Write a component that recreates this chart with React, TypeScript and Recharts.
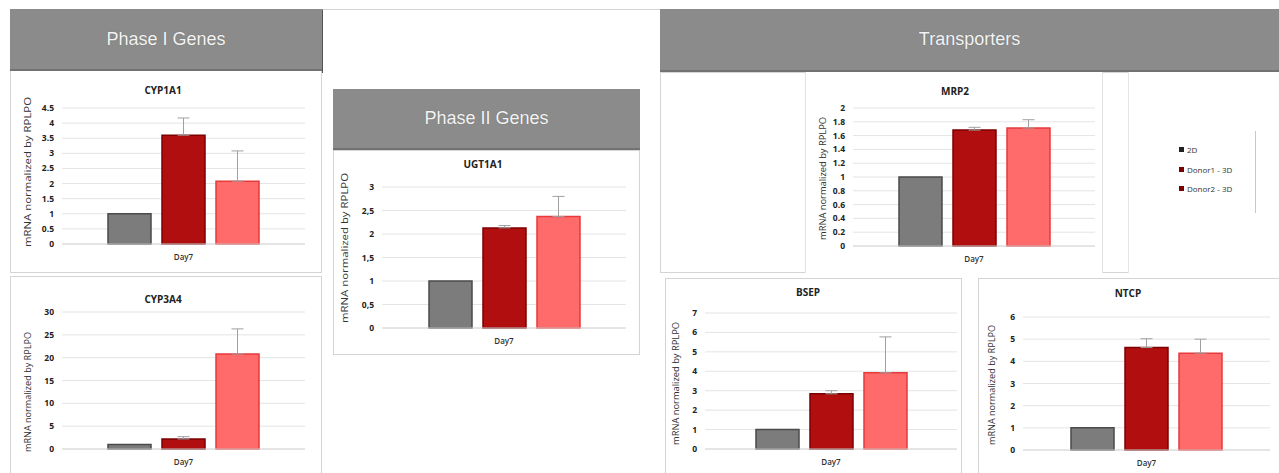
import { BarChart, Bar, ErrorBar, XAxis, YAxis, CartesianGrid } from "recharts";

const categories = ["Day7"];
const seriesNames = ["2D", "Donor1 - 3D", "Donor2 - 3D"];

const cyp1a1Means = [1, 3.6, 2.08];
const cyp1a1Errors = [0, 0.57, 1.0];
const cyp1a1Ticks = [0, 0.5, 1, 1.5, 2, 2.5, 3, 3.5, 4, 4.5];

const cyp3a4Means = [1, 2.2, 20.8];
const cyp3a4Errors = [0, 0.5, 5.5];
const cyp3a4Ticks = [0, 5, 10, 15, 20, 25, 30];

const ugt1a1Means = [1, 2.13, 2.37];
const ugt1a1Errors = [0, 0.05, 0.43];
const ugt1a1Ticks = [0, 0.5, 1, 1.5, 2, 2.5, 3];
const ugt1a1TickLabels = ["0", "0,5", "1", "1,5", "2", "2,5", "3"];

const mrp2Means = [1, 1.68, 1.71];
const mrp2Errors = [0, 0.04, 0.12];
const mrp2Ticks = [0, 0.2, 0.4, 0.6, 0.8, 1, 1.2, 1.4, 1.6, 1.8, 2];

const bsepMeans = [1, 2.84, 3.92];
const bsepErrors = [0, 0.16, 1.85];
const bsepTicks = [0, 1, 2, 3, 4, 5, 6, 7];

const ntcpMeans = [1, 4.62, 4.37];
const ntcpErrors = [0, 0.4, 0.63];
const ntcpTicks = [0, 1, 2, 3, 4, 5, 6];

const fills = ["#7c7c7c", "#b10f0f", "#ff6b6b"];
const strokes = ["#4a4a4a", "#7d0000", "#e83a3a"];
const yLabel = "mRNA normalized by RPLPO";
const chartFont = "'Open Sans', sans-serif";

type Plot = { x0: number; x1: number; y0: number; y1: number };

function MiniChart(props: {
  title: string;
  means: number[];
  errors: number[];
  ticks: number[];
  tickLabels?: string[];
  plot: Plot;
  titleAt: [number, number];
  labelAt: [number, number];
  labelLen: number;
}) {
  const { plot, ticks } = props;
  const yw = 40;
  const mt = 10;
  const xh = 30;
  const mr = 5;
  const left = plot.x0 - yw;
  const top = plot.y0 - mt;
  const width = plot.x1 - plot.x0 + yw + mr;
  const height = plot.y1 - plot.y0 + mt + xh;

  const row: Record<string, any> = { name: categories[0] };
  props.means.forEach((m, i) => {
    row["v" + i] = m;
    row["e" + i] = [0, props.errors[i]];
  });
  const data = [row];

  const fmt = (v: number) => {
    if (props.tickLabels) {
      const idx = ticks.indexOf(v);
      return idx >= 0 ? props.tickLabels[idx] : String(v);
    }
    return String(v);
  };

  return (
    <>
      <div
        style={{
          position: "absolute",
          left: props.titleAt[0] - 60,
          top: props.titleAt[1] - 7,
          width: 120,
          textAlign: "center",
          fontFamily: chartFont,
          fontWeight: 700,
          fontSize: 10,
          lineHeight: "14px",
          color: "#222",
        }}
      >
        {props.title}
      </div>
      <svg
        style={{ position: "absolute", left: props.labelAt[0] - 8, top: props.labelAt[1] - props.labelLen / 2 - 4 }}
        width={16}
        height={props.labelLen + 8}
      >
        <text
          transform={`translate(11, ${props.labelLen / 2 + 4}) rotate(-90)`}
          textAnchor="middle"
          textLength={props.labelLen}
          lengthAdjust="spacingAndGlyphs"
          fontFamily={chartFont}
          fontSize={9}
          fill="#333"
        >
          {yLabel}
        </text>
      </svg>
      <div style={{ position: "absolute", left, top }}>
        <BarChart
          width={width}
          height={height}
          data={data}
          margin={{ top: mt, right: mr, bottom: 0, left: 0 }}
          barSize={43}
          barGap={11}
        >
          <CartesianGrid vertical={false} stroke="#e4e4e4" />
          <XAxis
            dataKey="name"
            height={xh}
            tickLine={false}
            axisLine={{ stroke: "#d8d8d8" }}
            tickMargin={4}
            tick={{ fontSize: 8, fill: "#333", fontFamily: chartFont, fontWeight: 600 }}
          />
          <YAxis
            width={yw}
            domain={[ticks[0], ticks[ticks.length - 1]]}
            ticks={ticks}
            interval={0}
            tickFormatter={fmt}
            axisLine={false}
            tickLine={false}
            tick={{ fontSize: 8.5, fill: "#222", fontFamily: chartFont, fontWeight: 700 }}
          />
          {props.means.map((_, i) => (
            <Bar
              key={seriesNames[i]}
              dataKey={"v" + i}
              name={seriesNames[i]}
              fill={fills[i]}
              stroke={strokes[i]}
              strokeWidth={1.5}
              isAnimationActive={false}
            >
              {props.errors[i] > 0 && (
                <ErrorBar dataKey={"e" + i} width={6} stroke="#a0a0a0" strokeWidth={1} direction="y" />
              )}
            </Bar>
          ))}
        </BarChart>
      </div>
    </>
  );
}

function Box(props: { left: number; top: number; width: number; height: number; style?: React.CSSProperties }) {
  return (
    <div
      style={{
        position: "absolute",
        left: props.left,
        top: props.top,
        width: props.width,
        height: props.height,
        boxSizing: "border-box",
        border: "1px solid #d4d4d4",
        background: "#fff",
        ...props.style,
      }}
    />
  );
}

function Header(props: { left: number; top: number; width: number; height: number; text: string }) {
  return (
    <div
      style={{
        position: "absolute",
        left: props.left,
        top: props.top,
        width: props.width,
        height: props.height,
        boxSizing: "border-box",
        background: "#8b8b8b",
        borderBottom: "2px solid #727272",
        color: "#f4f4f4",
        fontFamily: "'Liberation Sans', Arial, sans-serif",
        fontSize: 18,
        display: "flex",
        alignItems: "center",
        justifyContent: "center",
        textShadow: "0 0 1px rgba(0,0,0,0.3)",
      }}
    >
      {props.text}
    </div>
  );
}

export default function App() {
  return (
    <div style={{ position: "absolute", left: 0, top: 0, width: 1279, height: 473, background: "#fff", overflow: "hidden" }}>
      {/* Phase I column */}
      <Box left={10} top={70} width={312} height={203} />
      <Box left={10} top={276} width={312} height={200} />
      <Header left={10} top={9} width={312} height={62} text="Phase I Genes" />

      {/* Phase II column */}
      <Box left={322} top={9} width={340} height={64} style={{ borderRight: "none", borderBottom: "none", borderLeft: "1px solid #555" }} />
      <Box left={333} top={150} width={307} height={205} />
      <Header left={333} top={89} width={307} height={61} text="Phase II Genes" />

      {/* Transporters column */}
      <Box left={660} top={72} width={619} height={201} />
      <Box left={805} top={72} width={298} height={201} style={{ borderTop: "none", borderBottom: "none", borderColor: "#e2e2e2" }} />
      <Box left={1128} top={72} width={151} height={201} style={{ borderTop: "none", borderBottom: "none", borderRight: "none", borderColor: "#e6e6e6" }} />
      <Header left={660} top={9} width={619} height={63} text="Transporters" />
      <Box left={665} top={278} width={297} height={200} />
      <Box left={978} top={278} width={304} height={200} />

      <MiniChart
        title="CYP1A1"
        means={cyp1a1Means}
        errors={cyp1a1Errors}
        ticks={cyp1a1Ticks}
        plot={{ x0: 62, x1: 305, y0: 108, y1: 244 }}
        titleAt={[163, 90]}
        labelAt={[28, 172]}
        labelLen={150}
      />
      <MiniChart
        title="CYP3A4"
        means={cyp3a4Means}
        errors={cyp3a4Errors}
        ticks={cyp3a4Ticks}
        plot={{ x0: 62, x1: 305, y0: 312, y1: 449 }}
        titleAt={[163, 299]}
        labelAt={[28, 392]}
        labelLen={120}
      />
      <MiniChart
        title="UGT1A1"
        means={ugt1a1Means}
        errors={ugt1a1Errors}
        ticks={ugt1a1Ticks}
        tickLabels={ugt1a1TickLabels}
        plot={{ x0: 382, x1: 626, y0: 187, y1: 328 }}
        titleAt={[483, 164]}
        labelAt={[345, 248]}
        labelLen={150}
      />
      <MiniChart
        title="MRP2"
        means={mrp2Means}
        errors={mrp2Errors}
        ticks={mrp2Ticks}
        plot={{ x0: 853, x1: 1095, y0: 108, y1: 246 }}
        titleAt={[955, 91]}
        labelAt={[823, 178]}
        labelLen={123}
      />
      <MiniChart
        title="BSEP"
        means={bsepMeans}
        errors={bsepErrors}
        ticks={bsepTicks}
        plot={{ x0: 705, x1: 957, y0: 313, y1: 449 }}
        titleAt={[808, 292]}
        labelAt={[676, 383]}
        labelLen={123}
      />
      <MiniChart
        title="NTCP"
        means={ntcpMeans}
        errors={ntcpErrors}
        ticks={ntcpTicks}
        plot={{ x0: 1023, x1: 1270, y0: 317, y1: 450 }}
        titleAt={[1128, 293]}
        labelAt={[992, 385]}
        labelLen={120}
      />

      {/* legend */}
      <div style={{ position: "absolute", left: 1179, top: 140, fontFamily: chartFont, fontSize: 8, color: "#333", lineHeight: "19.5px" }}>
        {seriesNames.map((n, i) => (
          <div key={n} style={{ display: "flex", alignItems: "center" }}>
            <span style={{ display: "inline-block", width: 5, height: 5, background: i === 0 ? "#222" : strokes[1], marginRight: 3 }} />
            {n}
          </div>
        ))}
      </div>
      <div style={{ position: "absolute", left: 1255, top: 131, width: 1, height: 82, background: "#c8c8c8" }} />
    </div>
  );
}
